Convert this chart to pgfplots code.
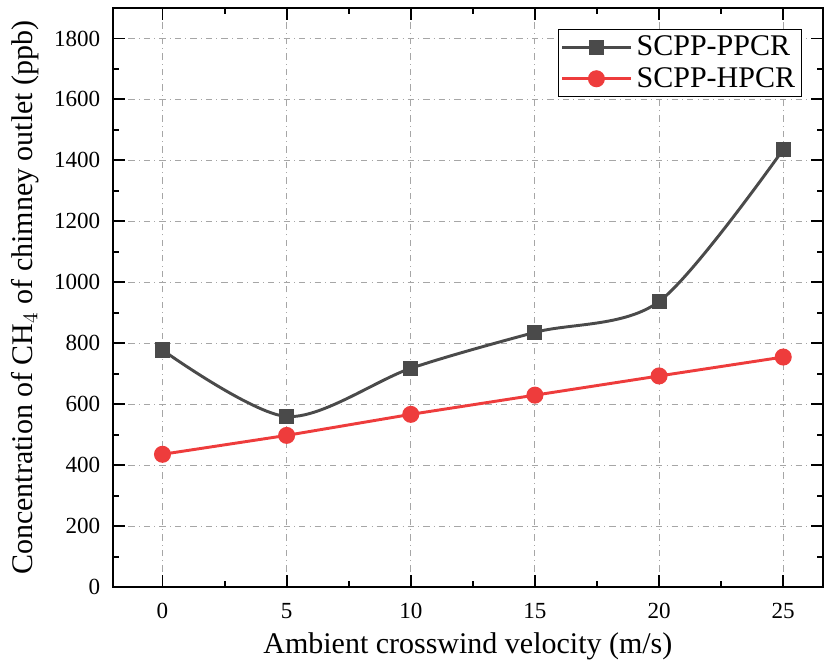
\documentclass[border=0pt]{standalone}
\usepackage{pgfplots}
\pgfplotsset{compat=1.18}
\usepackage{fontspec}
\setmainfont{Liberation Serif}
\definecolor{dgray}{RGB}{74,74,74}
\definecolor{lred}{RGB}{238,60,60}
\begin{document}
\begin{tikzpicture}
\begin{axis}[
  scale only axis,
  width=338.6pt, height=276.2pt,
  xmin=-2, xmax=26.6, ymin=0, ymax=1900,
  xtick={0,5,...,25}, ytick={0,200,...,1800},
  minor xtick={2.5,7.5,...,22.5},
  minor ytick={100,300,...,1700},
  tick align=inside,
  major tick length=5.7pt, minor tick length=3pt,
  every tick/.style={black, line width=0.9pt},
  axis line style={line width=1pt},
  grid=major,
  major grid style={gray!70, dash dot, line width=0.5pt},
  /pgf/number format/assume math mode=true,
  /pgf/number format/set thousands separator={},
  tick label style={font=\fontsize{11pt}{13pt}\selectfont},
  yticklabel style={xshift=-2.5pt},
  xticklabel style={yshift=-4.2pt},
  xlabel={Ambient crosswind velocity (m/s)},
  ylabel={Concentration of CH$_4$ of chimney outlet (ppb)},
  label style={font=\fontsize{14.3pt}{16pt}\selectfont},
  xlabel style={at={(axis description cs:0.5,0)}, anchor=base, inner sep=0pt, yshift=-31.4pt},
  ylabel style={at={(axis description cs:0,0.5)}, anchor=base, inner sep=0pt, yshift=38.1pt},
  legend style={at={(1,1)}, anchor=north east, xshift=-10pt, yshift=-10pt,
    draw=black, line width=0.6pt, font=\fontsize{14.3pt}{17pt}\selectfont,
    row sep=0pt, inner xsep=1pt, inner ysep=1pt},
  legend cell align=left,
  legend image code/.code={
    \draw[#1] (0cm,0cm) -- (0.57cm,0cm) plot coordinates {(0.57cm,0cm)} -- (1.15cm,0cm);
  },
]
\addplot[dgray, line width=1.4pt, smooth, mark=square*, mark size=2.9pt,
  mark options={solid, fill=dgray, draw=dgray}]
  coordinates {(0,778) (5,560) (10,718) (15,836) (20,937) (25,1436)};
\addlegendentry{SCPP-PPCR}
\addplot[lred, line width=1.4pt, mark=*, mark size=3.35pt,
  mark options={solid, fill=lred, draw=lred}]
  coordinates {(0,436) (5,498) (10,567) (15,630) (20,693) (25,755)};
\addlegendentry{SCPP-HPCR}
\end{axis}
\path (current axis.north) ++(0,3.8pt);
\path (current axis.south west) ++(-53.8pt,0);
\end{tikzpicture}
\end{document}
